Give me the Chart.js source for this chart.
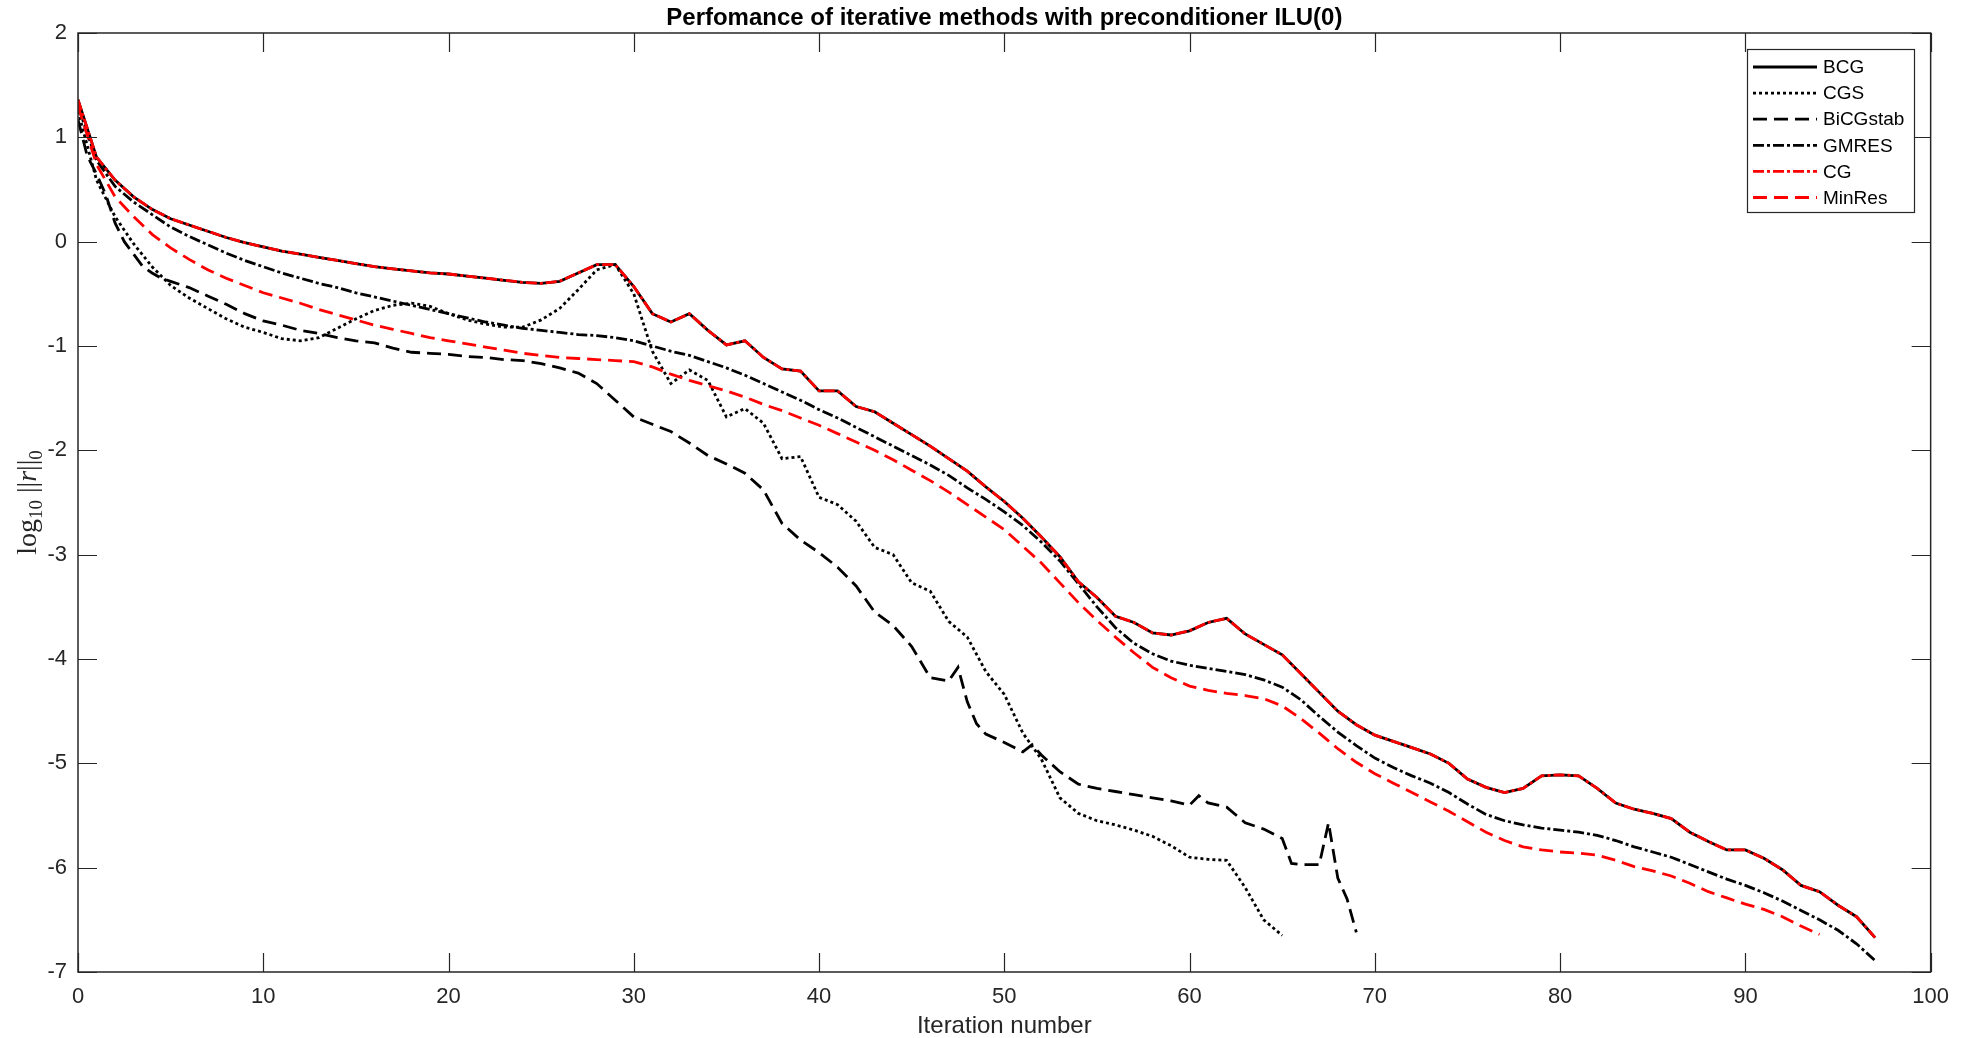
<!DOCTYPE html>
<html>
<head>
<meta charset="utf-8">
<script src="https://cdn.jsdelivr.net/npm/chart.js@4.4.1/dist/chart.umd.min.js"></script>
<style>
  html, body { margin: 0; padding: 0; background: #fff; }
</style>
</head>
<body>
<canvas id="chart" width="1961" height="1038"></canvas>
<script>
// Residual history, log10 ||r|| per iteration
const bcgVals = [1.36,0.81,0.59,0.43,0.31,0.22,0.16,0.10,0.04,-0.01,
  -0.05,-0.09,-0.12,-0.15,-0.18,-0.21,-0.24,-0.26,-0.28,-0.30,
  -0.31,-0.33,-0.35,-0.37,-0.39,-0.40,-0.38,-0.30,-0.22,-0.22,
  -0.43,-0.69,-0.77,-0.69,-0.85,-0.99,-0.95,-1.11,-1.22,-1.24,
  -1.43,-1.43,-1.58,-1.63,-1.74,-1.85,-1.96,-2.08,-2.20,-2.35,
  -2.49,-2.65,-2.83,-3.02,-3.26,-3.41,-3.59,-3.65,-3.75,-3.77,
  -3.73,-3.65,-3.61,-3.76,-3.86,-3.96,-4.14,-4.32,-4.50,-4.63,
  -4.73,-4.79,-4.85,-4.91,-5.00,-5.15,-5.23,-5.28,-5.24,-5.12,
  -5.11,-5.12,-5.24,-5.38,-5.44,-5.48,-5.53,-5.66,-5.75,-5.83,
  -5.83,-5.91,-6.02,-6.17,-6.23,-6.36,-6.47,-6.67];

// CG lies exactly on top of BCG in the figure
const cgVals = [1.36,0.81,0.59,0.43,0.31,0.22,0.16,0.10,0.04,-0.01,
  -0.05,-0.09,-0.12,-0.15,-0.18,-0.21,-0.24,-0.26,-0.28,-0.30,
  -0.31,-0.33,-0.35,-0.37,-0.39,-0.40,-0.38,-0.30,-0.22,-0.22,
  -0.43,-0.69,-0.77,-0.69,-0.85,-0.99,-0.95,-1.11,-1.22,-1.24,
  -1.43,-1.43,-1.58,-1.63,-1.74,-1.85,-1.96,-2.08,-2.20,-2.35,
  -2.49,-2.65,-2.83,-3.02,-3.26,-3.41,-3.59,-3.65,-3.75,-3.77,
  -3.73,-3.65,-3.61,-3.76,-3.86,-3.96,-4.14,-4.32,-4.50,-4.63,
  -4.73,-4.79,-4.85,-4.91,-5.00,-5.15,-5.23,-5.28,-5.24,-5.12,
  -5.11,-5.12,-5.24,-5.38,-5.44,-5.48,-5.53,-5.66,-5.75,-5.83,
  -5.83,-5.91,-6.02,-6.17,-6.23,-6.36,-6.47,-6.67];

const cgsVals = [1.25,0.59,0.24,-0.02,-0.24,-0.42,-0.54,-0.64,-0.74,-0.82,
  -0.87,-0.93,-0.95,-0.92,-0.83,-0.74,-0.66,-0.61,-0.59,-0.62,
  -0.69,-0.75,-0.79,-0.82,-0.82,-0.75,-0.64,-0.46,-0.27,-0.22,
  -0.50,-1.05,-1.36,-1.23,-1.33,-1.68,-1.60,-1.74,-2.08,-2.06,
  -2.45,-2.52,-2.68,-2.93,-3.00,-3.27,-3.35,-3.64,-3.79,-4.12,
  -4.34,-4.71,-4.96,-5.33,-5.48,-5.55,-5.59,-5.64,-5.70,-5.79,
  -5.90,-5.92,-5.93,-6.19,-6.50,-6.65];

const gmresVals = [1.30,0.78,0.53,0.38,0.26,0.14,0.05,-0.03,-0.11,-0.18,
  -0.24,-0.30,-0.35,-0.40,-0.44,-0.49,-0.53,-0.57,-0.61,-0.65,
  -0.69,-0.73,-0.77,-0.80,-0.83,-0.85,-0.87,-0.89,-0.90,-0.92,
  -0.95,-1.00,-1.05,-1.09,-1.15,-1.21,-1.28,-1.36,-1.44,-1.52,
  -1.61,-1.69,-1.78,-1.87,-1.96,-2.05,-2.14,-2.24,-2.36,-2.47,
  -2.59,-2.72,-2.88,-3.06,-3.28,-3.50,-3.70,-3.85,-3.95,-4.02,
  -4.06,-4.09,-4.12,-4.15,-4.20,-4.27,-4.39,-4.55,-4.70,-4.83,
  -4.95,-5.04,-5.12,-5.19,-5.28,-5.39,-5.49,-5.55,-5.59,-5.62,
  -5.64,-5.66,-5.69,-5.74,-5.80,-5.85,-5.90,-5.97,-6.04,-6.11,
  -6.17,-6.24,-6.32,-6.41,-6.50,-6.60,-6.73,-6.89];

const minresVals = [1.30,0.74,0.43,0.24,0.07,-0.06,-0.17,-0.27,-0.35,-0.42,
  -0.49,-0.54,-0.59,-0.65,-0.70,-0.75,-0.80,-0.84,-0.88,-0.92,
  -0.95,-0.98,-1.01,-1.04,-1.07,-1.09,-1.11,-1.12,-1.13,-1.14,
  -1.15,-1.20,-1.27,-1.33,-1.38,-1.43,-1.49,-1.56,-1.62,-1.69,
  -1.76,-1.84,-1.92,-2.00,-2.09,-2.19,-2.29,-2.40,-2.52,-2.64,
  -2.76,-2.92,-3.08,-3.27,-3.46,-3.63,-3.79,-3.94,-4.08,-4.18,
  -4.26,-4.30,-4.33,-4.35,-4.38,-4.45,-4.57,-4.71,-4.86,-4.99,
  -5.10,-5.19,-5.28,-5.37,-5.46,-5.56,-5.66,-5.74,-5.80,-5.83,
  -5.85,-5.86,-5.88,-5.93,-5.99,-6.03,-6.08,-6.15,-6.23,-6.29,
  -6.35,-6.40,-6.47,-6.56,-6.64];

// BiCGstab also reports half iterations
const bicgIters = [0,0.5,1,1.5,2,2.5,3,3.5,4,4.5,5,6,7,8,9,10,11,12,13,14,15,16,17,18,19,20,
  21,22,23,24,25,26,27,28,29,30,31,32,33,34,35,36,37,38,39,40,41,42,43,44,45,46,47,47.5,
  48,48.5,49,50,51,51.5,52,53,54,55,56,57,58,59,60,60.5,61,62,63,64,65,65.5,66,67,67.5,
  68,68.5,69];
const bicgVals = [1.17,0.82,0.65,0.45,0.18,0.0,-0.12,-0.24,-0.30,-0.35,-0.38,-0.44,-0.52,-0.60,-0.69,-0.76,-0.80,-0.85,-0.88,-0.92,-0.95,-0.97,-1.02,-1.06,-1.07,-1.08,
  -1.10,-1.11,-1.13,-1.14,-1.17,-1.21,-1.26,-1.36,-1.52,-1.68,-1.75,-1.82,-1.93,-2.05,-2.13,-2.22,-2.38,-2.70,-2.86,-2.98,-3.12,-3.30,-3.55,-3.68,-3.88,-4.18,-4.21,-4.08,
  -4.41,-4.62,-4.72,-4.80,-4.89,-4.82,-4.92,-5.08,-5.20,-5.24,-5.27,-5.30,-5.33,-5.36,-5.40,-5.31,-5.38,-5.42,-5.57,-5.63,-5.72,-5.96,-5.97,-5.97,-5.57,
  -6.10,-6.30,-6.62];

const xTicks = [0, 10, 20, 30, 40, 50, 60, 70, 80, 90, 100];
const yTicks = [2, 1, 0, -1, -2, -3, -4, -5, -6, -7];

const AXIS_COL = '#262626';
const SANS = "'Liberation Sans', Arial, Helvetica, sans-serif";

function pts(vals, iters) {
  return vals.map((v, i) => ({ x: iters ? iters[i] : i, y: v }));
}

// box, inward ticks, title, labels and the legend, MATLAB style
const matlabFrame = {
  id: 'matlabFrame',
  afterDraw(chart) {
    const ctx = chart.ctx;
    const a = chart.chartArea;
    const xs = chart.scales.x, ys = chart.scales.y;
    const tl = 19;

    ctx.save();
    ctx.strokeStyle = AXIS_COL;
    ctx.lineWidth = 1.5;
    ctx.strokeRect(a.left, a.top, a.right - a.left, a.bottom - a.top);
    ctx.beginPath();
    xTicks.forEach(t => {
      const px = Math.round(xs.getPixelForValue(t)) + 0.5;
      ctx.moveTo(px, a.bottom); ctx.lineTo(px, a.bottom - tl);
      ctx.moveTo(px, a.top); ctx.lineTo(px, a.top + tl);
    });
    yTicks.forEach(t => {
      const py = Math.round(ys.getPixelForValue(t)) + 0.5;
      ctx.moveTo(a.left, py); ctx.lineTo(a.left + tl, py);
      ctx.moveTo(a.right, py); ctx.lineTo(a.right - tl, py);
    });
    ctx.lineWidth = 1.2;
    ctx.stroke();

    // title
    ctx.fillStyle = '#000';
    ctx.font = 'bold 24px ' + SANS;
    ctx.textAlign = 'center';
    ctx.textBaseline = 'middle';
    ctx.fillText('Perfomance of iterative methods with preconditioner ILU(0)', (a.left + a.right) / 2, 18);

    // x label
    ctx.fillStyle = AXIS_COL;
    ctx.font = '24px ' + SANS;
    ctx.fillText('Iteration number', (a.left + a.right) / 2, 1026);

    // y label: log10 ||r||0 in a serif face, rotated
    ctx.save();
    ctx.translate(36, (a.top + a.bottom) / 2);
    ctx.rotate(-Math.PI / 2);
    ctx.fillStyle = AXIS_COL;
    ctx.textAlign = 'left';
    ctx.textBaseline = 'alphabetic';
    const parts = [
      { t: 'log', f: '28px', dy: 0 },
      { t: '10', f: '19px', dy: 6 },
      { t: ' ||', f: '28px', dy: 0 },
      { t: 'r', f: 'italic 28px', dy: 0 },
      { t: '||', f: '28px', dy: 0 },
      { t: '0', f: '19px', dy: 6 }
    ];
    const serif = " 'Liberation Serif', 'DejaVu Serif', serif";
    let w = 0;
    parts.forEach(p => { ctx.font = p.f + serif; w += ctx.measureText(p.t).width; });
    let cx = -w / 2;
    parts.forEach(p => {
      ctx.font = p.f + serif;
      ctx.fillText(p.t, cx, p.dy);
      cx += ctx.measureText(p.t).width;
    });
    ctx.restore();

    // legend
    const lx = 1747, ly = 49, lw = 167, lh = 163;
    ctx.fillStyle = '#fff';
    ctx.fillRect(lx, ly, lw, lh);
    ctx.strokeStyle = AXIS_COL;
    ctx.lineWidth = 1.2;
    ctx.strokeRect(lx + 0.5, ly + 0.5, lw, lh);
    ctx.font = '19px ' + SANS;
    ctx.textAlign = 'left';
    ctx.textBaseline = 'middle';
    chart.data.datasets.forEach((ds, i) => {
      const y = ly + 18 + i * 26.1;
      ctx.save();
      ctx.strokeStyle = ds.borderColor;
      ctx.lineWidth = ds.borderWidth;
      ctx.setLineDash(ds.borderDash || []);
      ctx.beginPath();
      ctx.moveTo(lx + 6, y);
      ctx.lineTo(lx + 70, y);
      ctx.stroke();
      ctx.restore();
      ctx.fillStyle = '#000';
      ctx.fillText(ds.label, lx + 76, y + 1);
    });
    ctx.restore();
  }
};

const DASH = [14, 7];
const DASHDOT = [11, 3, 3, 3];
const DOT = [3, 3];

function line(label, data, color, dash, order) {
  return {
    label, data,
    borderColor: color,
    backgroundColor: color,
    borderWidth: 2.8,
    borderDash: dash,
    pointRadius: 0,
    tension: 0,
    fill: false,
    order
  };
}

new Chart(document.getElementById('chart'), {
  type: 'line',
  data: {
    datasets: [
      line('BCG', pts(bcgVals), '#000000', [], 6),
      line('CGS', pts(cgsVals), '#000000', DOT, 5),
      line('BiCGstab', pts(bicgVals, bicgIters), '#000000', DASH, 4),
      line('GMRES', pts(gmresVals), '#000000', DASHDOT, 3),
      line('CG', pts(cgVals), '#ff0000', DASHDOT, 2),
      line('MinRes', pts(minresVals), '#ff0000', DASH, 1)
    ]
  },
  options: {
    responsive: false,
    devicePixelRatio: 1,
    animation: false,
    layout: { padding: { left: 0, right: 30, top: 33, bottom: 0 } },
    plugins: {
      legend: { display: false },
      tooltip: { enabled: false },
      title: { display: false }
    },
    scales: {
      x: {
        type: 'linear',
        min: 0, max: 100,
        afterFit(s) { s.height = 66; },
        afterBuildTicks(s) { s.ticks = xTicks.map(v => ({ value: v })); },
        grid: { display: false, drawTicks: false },
        border: { display: false },
        ticks: { color: AXIS_COL, font: { family: SANS, size: 22 }, padding: 12, maxRotation: 0 }
      },
      y: {
        type: 'linear',
        min: -7, max: 2,
        afterFit(s) { s.width = 78; },
        afterBuildTicks(s) { s.ticks = yTicks.map(v => ({ value: v })); },
        grid: { display: false, drawTicks: false },
        border: { display: false },
        ticks: { color: AXIS_COL, font: { family: SANS, size: 22 }, padding: 11 }
      }
    }
  },
  plugins: [matlabFrame]
});
</script>
</body>
</html>
